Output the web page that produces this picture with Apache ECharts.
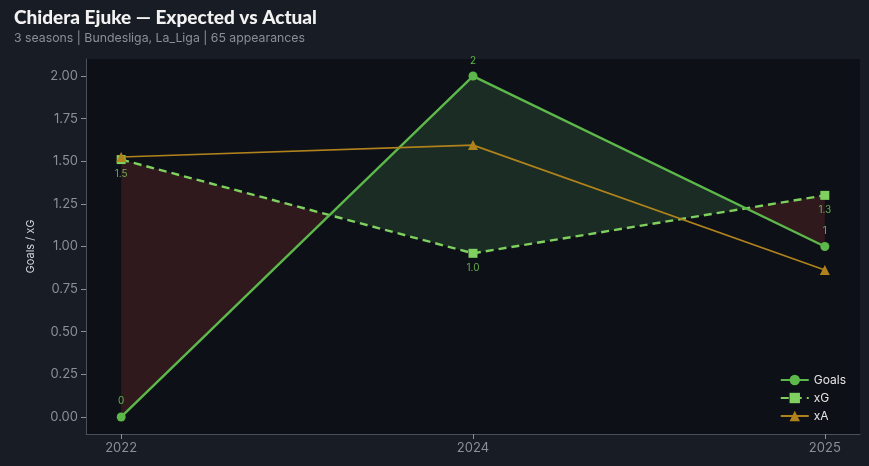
<!DOCTYPE html>
<html><head><meta charset="utf-8">
<script src="https://cdn.jsdelivr.net/npm/echarts@6/dist/echarts.min.js"></script>
<style>html,body{margin:0;padding:0;background:#181c24;}#c{width:869px;height:466px;}</style>
</head><body><div id="c"></div>
<script>
const seasons = ['2022', '2024', '2025'];
const goals = [0, 2, 1];
const xg = [1.51, 0.96, 1.30];
const xa = [1.525, 1.595, 0.862];
const yTicks = [0, 0.25, 0.5, 0.75, 1, 1.25, 1.5, 1.75, 2];

const idx = seasons.map((s, i) => i);
const GREEN = '#5cb84a', XG = '#7fd05e', XA = '#b0821c';
const chart = echarts.init(document.getElementById('c'));

function fillItem(params, api) {
  const i = params.dataIndex;
  const d0 = goals[i] - xg[i], d1 = goals[i + 1] - xg[i + 1];
  const P = (x, y) => api.coord([x, y]);
  const col = d => d >= 0 ? 'rgba(92,184,92,0.17)' : 'rgba(231,76,60,0.16)';
  const polys = [];
  if (d0 * d1 >= 0) {
    polys.push({pts: [P(i, goals[i]), P(i + 1, goals[i + 1]), P(i + 1, xg[i + 1]), P(i, xg[i])], c: col(d0 !== 0 ? d0 : d1)});
  } else {
    const t = d0 / (d0 - d1);
    const xc = i + t, yc = goals[i] + t * (goals[i + 1] - goals[i]);
    polys.push({pts: [P(i, goals[i]), P(xc, yc), P(i, xg[i])], c: col(d0)});
    polys.push({pts: [P(xc, yc), P(i + 1, goals[i + 1]), P(i + 1, xg[i + 1])], c: col(d1)});
  }
  return {type: 'group', children: polys.map(p => ({
    type: 'polygon', shape: {points: p.pts},
    style: {fill: p.c, stroke: null, lineWidth: 0}
  }))};
}

chart.setOption({
  backgroundColor: '#181c24',
  animation: false,
  title: {
    text: 'Chidera Ejuke — Expected vs Actual',
    subtext: '3 seasons | Bundesliga, La_Liga | 65 appearances',
    left: 9, top: 3, itemGap: 5,
    textStyle: {color: '#f2f2f2', fontSize: 19, fontWeight: 900, fontFamily: 'Lato'},
    subtextStyle: {color: '#8a8f99', fontSize: 12.3, fontFamily: 'Inter'}
  },
  grid: {left: 86, right: 9, top: 59, bottom: 32, show: true, backgroundColor: '#0d1017', borderWidth: 0},
  legend: {
    orient: 'vertical', right: 18, bottom: 39, itemGap: 6, itemWidth: 28, itemHeight: 13,
    textStyle: {color: '#e6e6e6', fontSize: 12, fontFamily: 'Inter'},
    data: ['Goals', 'xG', 'xA']
  },
  xAxis: {
    type: 'value', min: -0.1, max: 2.1,
    axisLine: {show: true, onZero: false, lineStyle: {color: '#4a4f58'}},
    axisTick: {show: true, customValues: idx, length: 5, lineStyle: {color: '#8a8f99'}},
    axisLabel: {customValues: idx, formatter: v => seasons[Math.round(v)], color: '#8a8f99', fontSize: 13, fontFamily: 'Inter', margin: 8},
    splitLine: {show: false}
  },
  yAxis: {
    type: 'value', min: -0.1, max: 2.1,
    name: 'Goals / xG', nameLocation: 'middle', nameGap: 50,
    nameTextStyle: {color: '#d0d3d8', fontSize: 11, fontFamily: 'Inter'},
    axisLine: {show: true, onZero: false, lineStyle: {color: '#4a4f58'}},
    axisTick: {show: true, customValues: yTicks, length: 5, lineStyle: {color: '#8a8f99'}},
    axisLabel: {customValues: yTicks, formatter: v => v.toFixed(2), color: '#8a8f99', fontSize: 13, fontFamily: 'Inter', margin: 8},
    splitLine: {show: false}
  },
  series: [
    {type: 'custom', name: 'fill', renderItem: fillItem, data: idx.slice(0, -1).map(i => [i]), z: 1, silent: true, clip: true},
    {type: 'line', name: 'Goals', data: idx.map(i => [i, goals[i]]), color: GREEN,
     lineStyle: {width: 2.4, color: GREEN}, symbol: 'circle', symbolSize: 9, itemStyle: {color: GREEN}, z: 4,
     label: {show: true, position: 'top', distance: 6, color: GREEN, fontSize: 10, fontFamily: 'Inter', formatter: p => String(p.value[1])}},
    {type: 'line', name: 'xG', data: idx.map(i => [i, xg[i]]), color: XG,
     lineStyle: {width: 2.4, color: XG, type: [8, 5]}, symbol: 'rect', symbolSize: 9, itemStyle: {color: XG}, z: 3,
     label: {show: true, position: 'bottom', distance: 5, color: 'rgba(127,208,94,0.8)', fontSize: 10, fontFamily: 'Inter', formatter: p => p.value[1].toFixed(1)}},
    {type: 'line', name: 'xA', data: idx.map(i => [i, xa[i]]), color: XA,
     lineStyle: {width: 1.7, color: XA}, symbol: 'triangle', symbolSize: 10, itemStyle: {color: XA}, z: 5}
  ]
});
</script></body></html>
